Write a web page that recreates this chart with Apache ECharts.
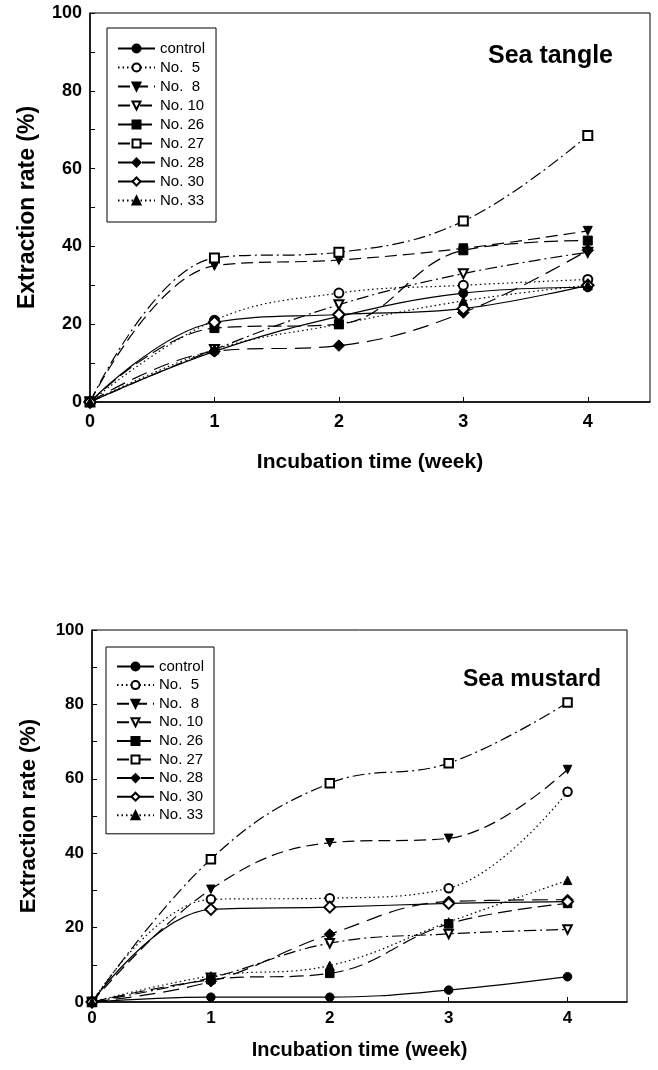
<!DOCTYPE html>
<html>
<head>
<meta charset="utf-8">
<title>Extraction rate</title>
<script src="https://cdn.jsdelivr.net/npm/echarts@6/dist/echarts.min.js"></script>
</head>
<body style="margin:0;padding:0;background:#fff;">
<div id="main" style="width:658px;height:1070px;"></div>
<script>
// incubation time (week) and tick labels
var weeks = [0, 1, 2, 3, 4];
var xTicks = [0, 1, 2, 3, 4];
var names = ['control', 'No.  5', 'No.  8', 'No. 10', 'No. 26', 'No. 27', 'No. 28', 'No. 30', 'No. 33'];

// Sea tangle, extraction rate (%)
var tangleControl = [0, 13, 22, 28, 29.5];
var tangleNo5  = [0, 21, 28, 30, 31.5];
var tangleNo8  = [0, 35, 36.5, 39.5, 44];
var tangleNo10 = [0, 13.5, 25, 33, 38.5];
var tangleNo26 = [0, 19, 20, 39, 41.5];
var tangleNo27 = [0, 37, 38.5, 46.5, 68.5];
var tangleNo28 = [0, 13, 14.5, 23, 39];
var tangleNo30 = [0, 20.5, 22.5, 24, 30];
var tangleNo33 = [0, 13.5, 20, 26, 30];

// Sea mustard, extraction rate (%)
var mustardControl = [0, 1.3, 1.3, 3.2, 6.8];
var mustardNo5  = [0, 27.6, 27.9, 30.6, 56.5];
var mustardNo8  = [0, 30.3, 42.8, 44, 62.5];
var mustardNo10 = [0, 6.5, 15.8, 18.3, 19.5];
var mustardNo26 = [0, 6, 7.7, 21, 26.5];
var mustardNo27 = [0, 38.4, 58.8, 64.2, 80.5];
var mustardNo28 = [0, 5.5, 18.2, 27, 27.5];
var mustardNo30 = [0, 24.9, 25.5, 26.5, 27];
var mustardNo33 = [0, 7, 9.8, 21.5, 32.7];

var tangle = [tangleControl, tangleNo5, tangleNo8, tangleNo10, tangleNo26, tangleNo27, tangleNo28, tangleNo30, tangleNo33];
var mustard = [mustardControl, mustardNo5, mustardNo8, mustardNo10, mustardNo26, mustardNo27, mustardNo28, mustardNo30, mustardNo33];

// marker / dash look of each strain (grow = extra marker size for diamonds)
var looks = [
    {symbol: 'circle', rotate: 0, grow: 0, dash: 'solid'},
    {symbol: 'emptyCircle', rotate: 0, grow: 0, dash: [1.5, 3]},
    {symbol: 'triangle', rotate: 180, grow: 0, dash: [12, 6]},
    {symbol: 'emptyTriangle', rotate: 180, grow: 0, dash: [12, 4, 2, 4]},
    {symbol: 'rect', rotate: 0, grow: 0, dash: [14, 6]},
    {symbol: 'emptyRect', rotate: 0, grow: 0, dash: [12, 4, 2, 4]},
    {symbol: 'diamond', rotate: 0, grow: 2.5, dash: [16, 8]},
    {symbol: 'emptyDiamond', rotate: 0, grow: 2.5, dash: 'solid'},
    {symbol: 'triangle', rotate: 0, grow: 0, dash: [1.5, 3]}
];

var font = 'Liberation Sans, Arial, sans-serif';
var myChart = echarts.init(document.getElementById('main'));

function makeSeries(values, g, size) {
    var out = [];
    for (var i = 0; i < names.length; i++) {
        var pts = [];
        for (var k = 0; k < weeks.length; k++) pts.push([weeks[k], values[i][k]]);
        out.push({
            name: names[i],
            type: 'line',
            xAxisIndex: g,
            yAxisIndex: g,
            data: pts,
            smooth: 0.4,
            symbol: looks[i].symbol,
            symbolRotate: looks[i].rotate,
            symbolSize: size + looks[i].grow,
            color: '#000',
            itemStyle: {color: '#000', borderColor: '#000', borderWidth: 1},
            lineStyle: {color: '#000', width: 1.2, type: looks[i].dash},
            emphasis: {disabled: true},
            animation: false
        });
    }
    return out;
}

function xAxisOf(g, gap, fs, ns, margin) {
    return {
        type: 'value', gridIndex: g, min: 0, max: 4.5, interval: 1,
        name: 'Incubation time (week)', nameLocation: 'middle', nameGap: gap,
        nameTextStyle: {fontFamily: font, fontWeight: 'bold', fontSize: ns, color: '#000'},
        axisLine: {lineStyle: {color: '#000', width: 1.5}},
        axisTick: {inside: true, length: 5, customValues: xTicks, lineStyle: {color: '#000'}},
        axisLabel: {customValues: xTicks, fontFamily: font, fontWeight: 'bold', fontSize: fs, color: '#000', margin: margin},
        splitLine: {show: false}
    };
}

function yAxisOf(g, gap, fs, ns) {
    return {
        type: 'value', gridIndex: g, min: 0, max: 100, interval: 20,
        name: 'Extraction rate (%)', nameLocation: 'middle', nameGap: gap,
        nameTextStyle: {fontFamily: font, fontWeight: 'bold', fontSize: ns, color: '#000'},
        axisLine: {show: true, lineStyle: {color: '#000', width: 1.5}},
        axisTick: {inside: true, length: 5, lineStyle: {color: '#000'}},
        minorTick: {show: true, splitNumber: 2, length: 5, lineStyle: {color: '#000'}},
        axisLabel: {fontFamily: font, fontWeight: 'bold', fontSize: fs, color: '#000', margin: 8},
        splitLine: {show: false}
    };
}

function legendOf(left, top, gap, pad) {
    return {
        data: names,
        orient: 'vertical',
        left: left, top: top,
        itemWidth: 37, itemHeight: 10, itemGap: gap,
        padding: pad,
        borderColor: '#000', borderWidth: 1,
        textStyle: {fontFamily: font, fontSize: 15, color: '#000'},
        selectedMode: false
    };
}

var option = {
    backgroundColor: '#fff',
    animation: false,
    title: [
        {text: 'Sea tangle', right: 40, top: 39, textStyle: {fontFamily: font, fontWeight: 'bold', fontSize: 25, color: '#000'}},
        {text: 'Sea mustard', right: 52, top: 663, textStyle: {fontFamily: font, fontWeight: 'bold', fontSize: 23, color: '#000'}}
    ],
    legend: [
        legendOf(107, 28, 4, [13, 11, 14, 10]),
        legendOf(106, 647, 3.6, [12, 10, 11, 10])
    ],
    grid: [
        {left: 90, top: 13, width: 560, height: 389, show: true, borderColor: '#000', borderWidth: 1, backgroundColor: 'transparent'},
        {left: 92, top: 630, width: 535, height: 372, show: true, borderColor: '#000', borderWidth: 1, backgroundColor: 'transparent'}
    ],
    xAxis: [xAxisOf(0, 50, 18, 21, 11), xAxisOf(1, 38, 17, 20, 8)],
    yAxis: [yAxisOf(0, 51, 18, 23), yAxisOf(1, 52, 17, 22)],
    series: makeSeries(tangle, 0, 9).concat(makeSeries(mustard, 1, 8.5))
};

myChart.setOption(option);
</script>
</body>
</html>
